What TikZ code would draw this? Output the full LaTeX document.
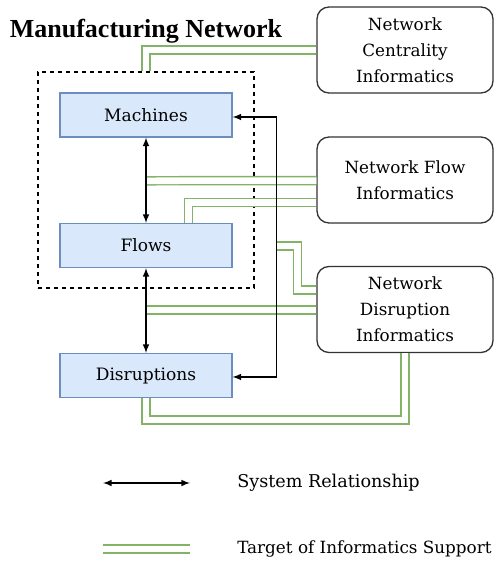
\documentclass[tikz,border=0pt]{standalone}
\usepackage{fontspec}
\setmainfont{DejaVu Serif}
\newfontfamily\titlefont{Liberation Serif}
\usetikzlibrary{calc}
\definecolor{boxblue}{HTML}{DAE8FC}
\definecolor{boxedge}{HTML}{6C8EBF}
\definecolor{supgreen}{HTML}{82B366}
\begin{document}
\begin{tikzpicture}[>=latex, x=0.75pt, y=-0.75pt,
    comp/.style={draw=boxedge, fill=boxblue, line width=0.8pt, minimum width=129pt, minimum height=33pt, font=\fontsize{12.8}{16}\selectfont},
    info/.style={draw=black!80, rounded corners=9pt, line width=1pt, minimum width=132pt, minimum height=64.5pt, align=center, font=\fontsize{12.6}{19.5}\selectfont},
    rel/.style={<->, line width=1.2pt},
    sup/.style={draw=supgreen, double=white, double distance=4.9pt, line width=1.1pt}]
    \useasboundingbox (0,0) rectangle (497,566);

    % 1. Title and system boxes
    \node[anchor=base, font=\titlefont\bfseries\fontsize{19.5}{22}\selectfont] (title) at (146,38) {Manufacturing Network};
    \node[draw, dashed, line width=0.8pt, minimum width=162pt, minimum height=162pt] (net) at (146,180) {};
    \node[comp] (machines) at (146,115) {Machines};
    \node[comp] (flows) at (146,245.5) {Flows};
    \node[comp] (disruptions) at (146,375.5) {Disruptions};

    % 2. Informatics boxes
    \node[info] (centr) at (405,50) {Network\\Centrality\\Informatics};
    \node[info] (flowinf) at (405,180) {Network Flow\\Informatics};
    \node[info] (disinf) at (405,309.5) {Network\\Disruption\\Informatics};

    % 3. Support targets
    \coordinate (mf) at ($(machines.south)!.5!(flows.north)$);
    \coordinate (fd) at ($(flows.south)!.5!(disruptions.north)$);
    \coordinate (lp) at (276,246);
    \draw[sup] (centr.west) -| (net.north);
    \draw[sup] ([yshift=-0.4pt]flowinf.west) -- ([yshift=-0.4pt]mf);
    \draw[sup] ([yshift=-16.9pt]flowinf.west) -| ([xshift=31.9pt]flows.north);
    \draw[sup] (lp) -- ++(21.5,0) |- ([yshift=14.6pt]disinf.west);
    \draw[sup] ([yshift=-0.4pt]disinf.west) -- ([yshift=-0.4pt]disinf.west -| fd);
    \draw[sup] (disinf.south) -- ++(0,67) -| (disruptions.south);

    % 4. System relationships
    \draw[rel] (machines) -- (flows);
    \draw[rel] (flows) -- (disruptions);
    \draw[rel] ([yshift=-1.5pt]machines.east) -- ++(44,0) |- ([yshift=-1.1pt]disruptions.east);

    % 5. Legend
    \coordinate (la) at (103,483);
    \coordinate (lb) at (190,483);
    \coordinate (lc) at (103,549);
    \coordinate (ld) at (190,549);
    \draw[rel] (la) -- (lb);
    \draw[sup] (lc) -- (ld);
    \node[anchor=west, inner sep=0pt, font=\fontsize{13.2}{16}\selectfont] (legrel) at (237,483) {System Relationship};
    \node[anchor=west, inner sep=0pt, font=\fontsize{12.6}{16}\selectfont] (legsup) at (237,549) {Target of Informatics Support};
\end{tikzpicture}
\end{document}
